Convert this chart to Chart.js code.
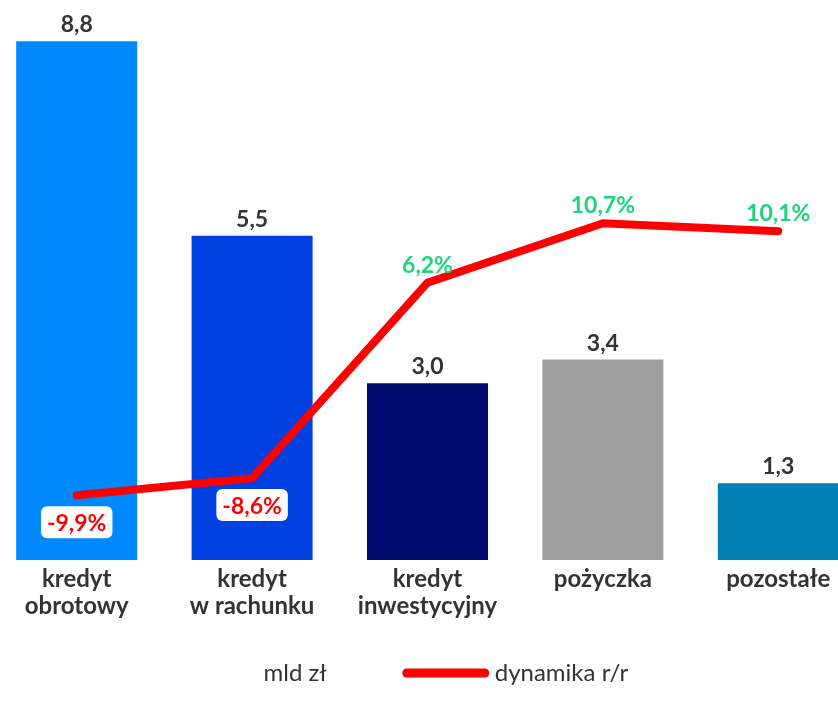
<!DOCTYPE html>
<html>
<head>
<meta charset="utf-8">
<script src="https://cdn.jsdelivr.net/npm/chart.js@4"></script>
<style>
  html, body { margin: 0; padding: 0; background: #fff; overflow: hidden; }
  #wrap { position: absolute; left: -11px; top: 0; width: 877px; height: 710px; }
</style>
</head>
<body>
<div id="wrap"><canvas id="myChart"></canvas></div>
<script>
// dane
const categories = [['kredyt', 'obrotowy'], ['kredyt', 'w rachunku'], ['kredyt', 'inwestycyjny'], 'pożyczka', 'pozostałe'];
const amounts = [8.8, 5.5, 3.0, 3.4, 1.3];      // mld zł
const dynamics = [-9.9, -8.6, 6.2, 10.7, 10.1]; // dynamika r/r, %
const barColors = ['#0089ff', '#0040e0', '#000a6e', '#a0a0a0', '#0080b3'];

Chart.defaults.font.family = 'Lato';
Chart.defaults.color = '#333';

function pl(v, d) {
  return v.toFixed(d).replace('.', ',');
}

// etykiety wartości
const valueLabels = {
  id: 'valueLabels',
  afterDatasetsDraw(chart) {
    const ctx = chart.ctx;
    ctx.save();
    ctx.textAlign = 'center';

    const bars = chart.getDatasetMeta(0).data;
    ctx.font = 'bold 23px Lato';
    ctx.fillStyle = '#333';
    ctx.textBaseline = 'alphabetic';
    bars.forEach((b, i) => {
      ctx.fillText(pl(amounts[i], 1), b.x, b.y - 9);
    });

    const pts = chart.getDatasetMeta(1).data;
    pts.forEach((p, i) => {
      const txt = pl(dynamics[i], 1) + '%';
      if (dynamics[i] >= 0) {
        ctx.fillStyle = '#1fd37c';
        ctx.textBaseline = 'alphabetic';
        ctx.fillText(txt, p.x, p.y - 10);
      } else {
        const w = ctx.measureText(txt).width + 12;
        const h = 32;
        const cy = p.y + 27;
        ctx.fillStyle = '#fff';
        ctx.beginPath();
        ctx.roundRect(p.x - w / 2, cy - h / 2, w, h, 6);
        ctx.fill();
        ctx.fillStyle = '#ff0000';
        ctx.textBaseline = 'middle';
        ctx.fillText(txt, p.x, cy + 1);
      }
    });
    ctx.restore();
  }
};

// legenda
const bottomLegend = {
  id: 'bottomLegend',
  afterDraw(chart) {
    const ctx = chart.ctx;
    const y = 673;
    let x = chart.width / 2 - 164;
    ctx.save();
    ctx.font = '24px Lato';
    ctx.fillStyle = '#333';
    ctx.textBaseline = 'middle';
    ctx.textAlign = 'left';
    ctx.fillText('mld zł', x, y);
    x += ctx.measureText('mld zł').width + 76;
    ctx.strokeStyle = '#ff0000';
    ctx.lineWidth = 9;
    ctx.lineCap = 'round';
    ctx.beginPath();
    ctx.moveTo(x + 4, y);
    ctx.lineTo(x + 82, y);
    ctx.stroke();
    x += 92;
    ctx.fillText('dynamika r/r', x, y);
    ctx.restore();
  }
};

const ctx = document.getElementById('myChart').getContext('2d');
const myChart = new Chart(ctx, {
  data: {
    labels: categories,
    datasets: [
      {
        type: 'bar',
        label: 'mld zł',
        data: amounts,
        backgroundColor: barColors,
        categoryPercentage: 1,
        barPercentage: 0.69,
        yAxisID: 'y',
        order: 2
      },
      {
        type: 'line',
        label: 'dynamika r/r',
        data: dynamics,
        borderColor: '#ff0000',
        borderWidth: 8,
        borderCapStyle: 'round',
        pointRadius: 0,
        pointHoverRadius: 0,
        yAxisID: 'y1',
        order: 1
      }
    ]
  },
  options: {
    responsive: true,
    maintainAspectRatio: false,
    animation: false,
    layout: {
      padding: { top: 0, left: 0, right: 0, bottom: 60 }
    },
    scales: {
      x: {
        grid: { display: false, drawTicks: false },
        border: { display: false },
        ticks: {
          padding: 6,
          color: '#333',
          font: { size: 24, weight: 'bold', lineHeight: 1.13 }
        },
        afterFit(scale) {
          scale.height = 90;
        }
      },
      y: {
        display: false,
        min: 0,
        max: 9.5
      },
      y1: {
        display: false,
        position: 'right',
        min: -14.8,
        max: 27.6
      }
    },
    plugins: {
      legend: { display: false },
      tooltip: { enabled: false }
    }
  },
  plugins: [valueLabels, bottomLegend]
});
</script>
</body>
</html>
